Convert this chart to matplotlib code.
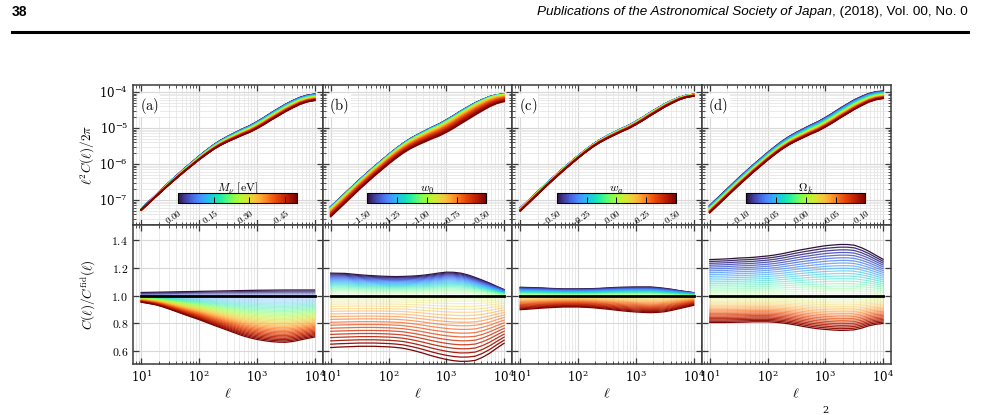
import numpy as np
import matplotlib.pyplot as plt
from matplotlib.lines import Line2D
from matplotlib.ticker import FuncFormatter, LogLocator, NullFormatter

plt.rcParams['mathtext.fontset'] = 'cm'
plt.rcParams['font.family'] = 'DejaVu Serif'

log_ell = [1.0, 1.125, 1.25, 1.375, 1.5, 1.625, 1.75, 1.875, 2.0, 2.125, 2.25, 2.375, 2.5,
           2.625, 2.75, 2.875, 3.0, 3.125, 3.25, 3.375, 3.5, 3.625, 3.75, 3.875, 4.0]
# fiducial log10 of ell^2 C(ell)/2pi
log_cl_fid = [-7.26, -7.07, -6.88, -6.69, -6.50, -6.32, -6.14, -5.97, -5.80, -5.64, -5.49, -5.36, -5.25,
              -5.15, -5.05, -4.96, -4.85, -4.73, -4.60, -4.48, -4.36, -4.26, -4.17, -4.11, -4.08]

# ratio curves for the lowest (upper curve) and highest (lower curve) parameter
ratio_mnu_low = [1.022, 1.023, 1.024, 1.025, 1.026, 1.027, 1.028, 1.029, 1.030, 1.031, 1.032, 1.033, 1.034,
                 1.035, 1.036, 1.037, 1.038, 1.0385, 1.039, 1.0395, 1.040, 1.040, 1.040, 1.040, 1.040]
ratio_mnu_high = [0.952, 0.943, 0.933, 0.918, 0.900, 0.881, 0.862, 0.844, 0.826, 0.806, 0.786, 0.767, 0.748,
                  0.729, 0.710, 0.695, 0.683, 0.674, 0.667, 0.663, 0.662, 0.668, 0.679, 0.690, 0.700]
ratio_w0_low = [1.162, 1.161, 1.160, 1.155, 1.150, 1.146, 1.143, 1.140, 1.138, 1.137, 1.138, 1.140, 1.143,
                1.148, 1.155, 1.163, 1.169, 1.168, 1.162, 1.149, 1.131, 1.111, 1.090, 1.066, 1.043]
ratio_w0_high = [0.624, 0.627, 0.629, 0.631, 0.633, 0.633, 0.633, 0.631, 0.629, 0.625, 0.619, 0.608, 0.595,
                 0.580, 0.564, 0.550, 0.538, 0.529, 0.524, 0.525, 0.531, 0.553, 0.583, 0.620, 0.655]
ratio_wa_low = [1.060, 1.058, 1.057, 1.055, 1.052, 1.050, 1.048, 1.048, 1.048, 1.049, 1.050, 1.052, 1.055,
                1.058, 1.060, 1.061, 1.062, 1.062, 1.062, 1.058, 1.052, 1.045, 1.036, 1.028, 1.021]
ratio_wa_high = [0.898, 0.901, 0.905, 0.909, 0.912, 0.915, 0.917, 0.917, 0.917, 0.915, 0.912, 0.907, 0.902,
                 0.896, 0.890, 0.885, 0.881, 0.878, 0.876, 0.878, 0.883, 0.893, 0.905, 0.917, 0.929]
ratio_ok_low = [1.260, 1.262, 1.264, 1.267, 1.271, 1.273, 1.276, 1.281, 1.286, 1.293, 1.302, 1.313, 1.324,
                1.334, 1.343, 1.352, 1.360, 1.365, 1.369, 1.369, 1.364, 1.346, 1.321, 1.291, 1.262]
ratio_ok_high = [0.805, 0.805, 0.805, 0.806, 0.807, 0.808, 0.810, 0.810, 0.810, 0.807, 0.802, 0.795, 0.786,
                 0.776, 0.767, 0.760, 0.755, 0.751, 0.748, 0.749, 0.752, 0.764, 0.781, 0.792, 0.798]

# parameter grids (41 models each) and fiducial values
mnu = np.linspace(0.0, 0.5, 41)
w0 = np.linspace(-1.5, -0.5, 41)
wa = np.linspace(-0.5, 0.5, 41)
omk = np.linspace(-0.1, 0.1, 41)

panels = [
    dict(tag='(a)', par=mnu, fid=0.06, up=ratio_mnu_low, lo=ratio_mnu_high, g=(1.0, 1.0),
         label=r'$M_\nu\ [\mathrm{eV}]$', ticks=[0.0, 0.15, 0.30, 0.45]),
    dict(tag='(b)', par=w0, fid=-1.0, up=ratio_w0_low, lo=ratio_w0_high, g=(0.8, 1.3),
         label=r'$w_0$', ticks=[-1.5, -1.25, -1.0, -0.75, -0.5]),
    dict(tag='(c)', par=wa, fid=0.0, up=ratio_wa_low, lo=ratio_wa_high, g=(0.85, 1.2),
         label=r'$w_a$', ticks=[-0.5, -0.25, 0.0, 0.25, 0.5]),
    dict(tag='(d)', par=omk, fid=0.0, up=ratio_ok_low, lo=ratio_ok_high, g=(1.05, 0.95),
         label=r'$\Omega_k$', ticks=[-0.1, -0.05, 0.0, 0.05, 0.1]),
]

ell = 10 ** np.array(log_ell)
cl_fid = 10 ** np.array(log_cl_fid)
cmap = plt.get_cmap('turbo')

fig = plt.figure(figsize=(9.81, 4.15), dpi=100)

# page header
fig.text(12 / 981, 1 - 12 / 415, '38', fontsize=10, fontweight='bold',
         family='Liberation Sans', ha='left', va='center')
t2 = fig.text(968 / 981, 1 - 12 / 415, ', (2018), Vol. 00, No. 0', fontsize=9.7,
              family='Liberation Sans', ha='right', va='center')
r = fig.canvas.get_renderer()
bb = t2.get_window_extent(renderer=r)
fig.text(bb.x0 / 981, 1 - 12 / 415, 'Publications of the Astronomical Society of Japan',
         fontsize=9.7, family='Liberation Sans', style='italic', ha='right', va='center')
fig.add_artist(Line2D([12 / 981, 968 / 981], [1 - 32 / 415, 1 - 32 / 415], color='black', lw=2.2))
fig.text(822 / 981, 1 - 406 / 415, '2', fontsize=7, ha='left', va='top', family='DejaVu Serif')

x0, w = 133 / 981, 189.5 / 981
spine_c = '#3a3a3a'


def style(ax):
    ax.set_xscale('log')
    ax.set_xlim(7.2, 13700)
    ax.tick_params(which='both', direction='in', top=True, right=True, colors=spine_c,
                   labelcolor='black', labelsize=8.5)
    ax.tick_params(which='major', length=4.5, width=0.9)
    ax.tick_params(which='minor', length=2.2, width=0.6)
    ax.xaxis.set_minor_locator(LogLocator(base=10, subs=np.arange(2, 10), numticks=20))
    ax.xaxis.set_minor_formatter(NullFormatter())
    ax.grid(which='major', color='#d8d8d8', lw=0.8)
    ax.grid(which='minor', color='#e6e6e6', lw=0.6)
    ax.set_axisbelow(True)
    for s in ax.spines.values():
        s.set_color(spine_c)
        s.set_linewidth(1.1)


for i, p in enumerate(panels):
    axt = fig.add_axes([x0 + i * w, 1 - 225 / 415, w, 140 / 415])
    axb = fig.add_axes([x0 + i * w, 1 - 364 / 415, w, 139 / 415])
    style(axt)
    style(axb)

    par, fid = p['par'], p['fid']
    up, lo = np.array(p['up']), np.array(p['lo'])
    norm = plt.Normalize(par.min(), par.max())
    for v in par:
        if v < fid:
            frac = (fid - v) / (fid - par.min())
            ratio = 1 + (up - 1) * frac ** p['g'][0]
        else:
            frac = (v - fid) / (par.max() - fid)
            ratio = 1 + (lo - 1) * frac ** p['g'][1]
        c = cmap(norm(v))
        axt.plot(ell, cl_fid * ratio, color=c, lw=1.2)
        alpha = min(1.0, 0.2 + 0.8 * frac)
        axb.plot(ell, ratio, color=c, lw=0.9, alpha=alpha)
    axb.plot(ell, np.ones_like(ell), color='black', lw=2.0)

    axt.set_yscale('log')
    axt.set_ylim(2.0e-8, 1.56e-4)
    axt.yaxis.set_minor_locator(LogLocator(base=10, subs=np.arange(2, 10), numticks=20))
    axt.yaxis.set_minor_formatter(NullFormatter())
    axt.set_xticklabels([])
    axb.set_ylim(0.505, 1.51)
    axb.set_yticks([0.6, 0.8, 1.0, 1.2, 1.4])
    axb.yaxis.set_major_formatter(FuncFormatter(lambda y, pos: r'$%.1f$' % y))
    axb.set_xticks([10, 100, 1000, 10000])
    axb.set_xlabel(r'$\ell$', fontsize=10, labelpad=1)
    if i == 0:
        axt.set_ylabel(r'$\ell^2C(\ell)/2\pi$', fontsize=9.5)
        axb.set_ylabel(r'$C(\ell)/C^{\rm fid}(\ell)$', fontsize=9.5)
        axt.yaxis.set_label_coords(-0.19, 0.5)
        axb.yaxis.set_label_coords(-0.19, 0.5)
    else:
        axt.set_yticklabels([])
        axb.set_yticklabels([])

    axt.text(0.035, 0.925, r'$\mathrm{' + p['tag'] + '}$', transform=axt.transAxes, fontsize=10.5,
             ha='left', va='top', bbox=dict(fc='white', ec='none', pad=1.0))

    cax = axt.inset_axes([0.237, 0.157, 0.628, 0.071])
    sm = plt.cm.ScalarMappable(norm=norm, cmap=cmap)
    cb = fig.colorbar(sm, cax=cax, orientation='horizontal')
    cb.set_ticks(p['ticks'])
    cb.set_ticklabels([r'$%.2f$' % t for t in p['ticks']])
    cb.outline.set_linewidth(0.8)
    cax.tick_params(direction='in', length=4, width=0.7, labelsize=6.5, pad=3)
    for lab in cax.get_xticklabels():
        lab.set_rotation(35)
        lab.set_ha('right')
        lab.set_va('top')
        lab.set_rotation_mode('anchor')
    cax.xaxis.set_label_position('top')
    cb.set_label(p['label'], fontsize=8.5, labelpad=1)

fig.savefig('out.png', dpi=100)
